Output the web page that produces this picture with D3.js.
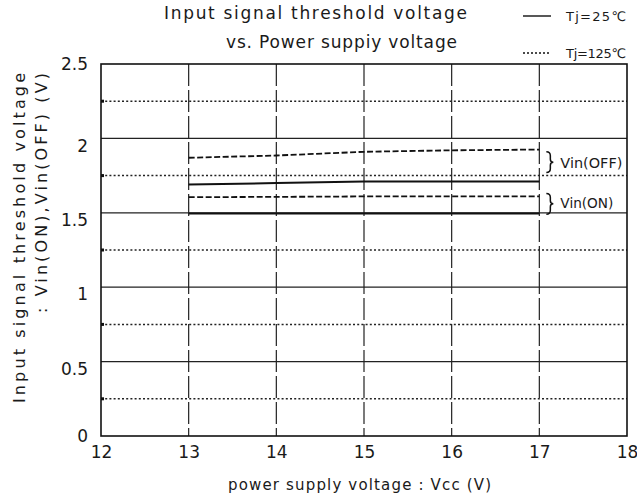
<!DOCTYPE html>
<html>
<head>
<meta charset="utf-8">
<script src="https://cdn.jsdelivr.net/npm/d3@7"></script>
<style>
  body { margin: 0; background: #fff; }
  svg text { font-family: "DejaVu Sans", sans-serif; fill: #1a1a1a; }
</style>
</head>
<body>
<svg id="chart" width="637" height="496"></svg>
<script>
// data
var vcc = [13, 14, 15, 16, 17];
var offTj25 = [1.69, 1.70, 1.71, 1.71, 1.71];
var offTj125 = [1.87, 1.885, 1.91, 1.92, 1.925];
var onTj25 = [1.495, 1.495, 1.495, 1.495, 1.495];
var onTj125 = [1.605, 1.607, 1.61, 1.61, 1.61];

var xTicks = [12, 13, 14, 15, 16, 17, 18];
var yTicks = [0, 0.5, 1, 1.5, 2, 2.5];
var yMinor = [0.25, 0.75, 1.25, 1.75, 2.25];
var xGrid = [13, 14, 15, 16, 17];

var svg = d3.select("#chart");

var x = d3.scaleLinear().domain([12, 18]).range([101, 627]);
var y = d3.scaleLinear().domain([0, 2.5]).range([436, 64]);

// dotted minor gridlines
svg.selectAll(".minor")
    .data(yMinor)
  .enter().append("line")
    .attr("class", "minor")
    .attr("x1", x(12)).attr("x2", x(18))
    .attr("y1", function(d) { return y(d); })
    .attr("y2", function(d) { return y(d); })
    .attr("stroke", "#222")
    .attr("stroke-width", 1.5)
    .attr("stroke-dasharray", "2,2.2");

// small marks where the dotted lines meet the left border
svg.selectAll(".mark")
    .data(yMinor)
  .enter().append("rect")
    .attr("class", "mark")
    .attr("x", x(12))
    .attr("y", function(d) { return y(d) - 1.5; })
    .attr("width", 3).attr("height", 3)
    .attr("fill", "#111");

// solid major gridlines
svg.selectAll(".major")
    .data([0.5, 1, 1.5, 2])
  .enter().append("line")
    .attr("class", "major")
    .attr("x1", x(12)).attr("x2", x(18))
    .attr("y1", function(d) { return y(d); })
    .attr("y2", function(d) { return y(d); })
    .attr("stroke", "#222")
    .attr("stroke-width", 1.3);

// vertical gridlines (broken)
svg.selectAll(".vgrid")
    .data(xGrid)
  .enter().append("line")
    .attr("class", "vgrid")
    .attr("x1", function(d) { return x(d); })
    .attr("x2", function(d) { return x(d); })
    .attr("y1", y(2.5)).attr("y2", y(0))
    .attr("stroke", "#222")
    .attr("stroke-width", 1.2)
    .attr("stroke-dasharray", "22,4");

// frame
svg.append("rect")
    .attr("x", x(12)).attr("y", y(2.5))
    .attr("width", x(18) - x(12))
    .attr("height", y(0) - y(2.5))
    .attr("fill", "none")
    .attr("stroke", "#111")
    .attr("stroke-width", 1.6);

// axes
var xAxis = svg.append("g")
    .attr("transform", "translate(0," + y(0) + ")")
    .call(d3.axisBottom(x).tickValues(xTicks).tickSize(0).tickPadding(10).tickFormat(d3.format("d")));
xAxis.select(".domain").remove();
xAxis.selectAll("text")
    .style("font-size", "17px")
    .style("font-family", "DejaVu Sans, sans-serif")
    .attr("fill", "#1a1a1a");

var yAxis = svg.append("g")
    .attr("transform", "translate(" + x(12) + ",0)")
    .call(d3.axisLeft(y).tickValues(yTicks).tickSize(0).tickPadding(13).tickFormat(function(d) { return d; }));
yAxis.select(".domain").remove();
yAxis.selectAll("text")
    .style("font-size", "17px")
    .style("font-family", "DejaVu Sans, sans-serif")
    .attr("fill", "#1a1a1a")
    .attr("dy", function(d) { return (d > 0 && d < 2.5) ? "0.75em" : "0.32em"; });

// curves
var line = d3.line()
    .x(function(d) { return x(d[0]); })
    .y(function(d) { return y(d[1]); });

function series(vals) {
  return vcc.map(function(v, i) { return [v, vals[i]]; });
}

[[offTj25, null], [onTj25, null], [offTj125, "6,2.5"], [onTj125, "6,2.5"]].forEach(function(s) {
  svg.append("path")
      .datum(series(s[0]))
      .attr("d", line)
      .attr("fill", "none")
      .attr("stroke", "#111")
      .attr("stroke-width", s[1] ? 1.8 : 2)
      .attr("stroke-dasharray", s[1]);
});

// braces with labels
function brace(x0, yTop, yBot) {
  var m = (yTop + yBot) / 2, w = 4;
  var p = d3.path();
  p.moveTo(x0, yTop);
  p.quadraticCurveTo(x0 + w, yTop, x0 + w, yTop + 4);
  p.lineTo(x0 + w, m - 3);
  p.quadraticCurveTo(x0 + w, m, x0 + w + 3, m);
  p.quadraticCurveTo(x0 + w, m, x0 + w, m + 3);
  p.lineTo(x0 + w, yBot - 4);
  p.quadraticCurveTo(x0 + w, yBot, x0, yBot);
  return p.toString();
}

var braces = [
  {label: "Vin(OFF)", top: 1.91, bot: 1.77, ty: 1.80, w: 62},
  {label: "Vin(ON)", top: 1.63, bot: 1.49, ty: 1.53, w: 53}
];

braces.forEach(function(b) {
  svg.append("path")
      .attr("d", brace(x(17.08), y(b.top), y(b.bot)))
      .attr("fill", "none")
      .attr("stroke", "#111")
      .attr("stroke-width", 1.5);
  svg.append("text")
      .attr("x", x(17.24))
      .attr("y", y(b.ty))
      .attr("textLength", b.w)
      .attr("lengthAdjust", "spacingAndGlyphs")
      .style("font-size", "14px")
      .text(b.label);
});

// title
svg.append("text")
    .attr("x", 164).attr("y", 19)
    .attr("textLength", 303)
    .attr("lengthAdjust", "spacing")
    .style("font-size", "17px")
    .text("Input signal threshold voltage");
svg.append("text")
    .attr("x", 226).attr("y", 48)
    .attr("textLength", 231)
    .attr("lengthAdjust", "spacing")
    .style("font-size", "17px")
    .text("vs. Power suppiy voltage");

// legend
var legend = [
  {label: "Tj=25\u2103", dash: null, ly: 16},
  {label: "Tj=125\u2103", dash: "2,2", ly: 53}
];
legend.forEach(function(l) {
  svg.append("line")
      .attr("x1", 523).attr("x2", 551)
      .attr("y1", l.ly).attr("y2", l.ly)
      .attr("stroke", "#111")
      .attr("stroke-width", 1.4)
      .attr("stroke-dasharray", l.dash);
  svg.append("text")
      .attr("x", 566).attr("y", l.ly + 5)
      .attr("textLength", 60)
      .attr("lengthAdjust", "spacing")
      .style("font-size", "13px")
      .text(l.label);
});

// axis titles
svg.append("text")
    .attr("transform", "translate(25,403) rotate(-90)")
    .attr("textLength", 330)
    .attr("lengthAdjust", "spacing")
    .style("font-size", "16px")
    .text("Input signal threshold voltage");
svg.append("text")
    .attr("transform", "translate(47,313) rotate(-90)")
    .attr("textLength", 240)
    .attr("lengthAdjust", "spacing")
    .style("font-size", "16px")
    .text(": Vin(ON),Vin(OFF)  (V)");

svg.append("text")
    .attr("x", 228).attr("y", 490)
    .attr("textLength", 263)
    .attr("lengthAdjust", "spacing")
    .style("font-size", "15px")
    .text("power supply voltage : Vcc (V)");
</script>
</body>
</html>
